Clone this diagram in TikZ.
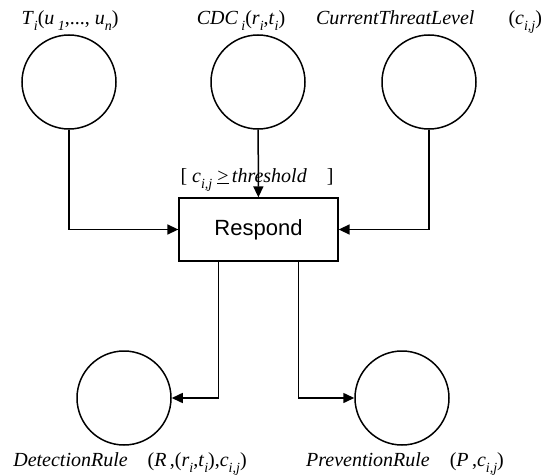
\documentclass[tikz,border=0pt]{standalone}
\usepackage{fontspec}
\setmainfont{Liberation Serif}
\newfontfamily\respfont{Liberation Sans}
\usetikzlibrary{arrows.meta}
\newcommand{\lowr}[1]{\raisebox{-0.3em}{\fontsize{14}{14}\selectfont\itshape #1}}
\tikzset{
	place/.style={draw,circle,line width=1.5pt,minimum size=94pt,inner sep=0pt},
	trans/.style={draw,rectangle,line width=1.3pt,minimum width=159pt,minimum height=63pt,font=\respfont\fontsize{22}{25}\selectfont},
	lbl/.style={draw=none,fill=none,anchor=base,inner sep=0pt,font=\fontsize{20}{24}\selectfont},
	arr/.style={line width=1.5pt,-{Triangle[length=11pt,width=10pt]}}
}
\begin{document}
\begin{tikzpicture}[x=1pt,y=-1pt]
		\useasboundingbox (0,0) rectangle (543,476);
		
		\node[place] (tin) at (69,82) {};
		\node[place] (cdc) at (258,82) {};
		\node[place] (ctl) at (429,82) {};
		\node[lbl] (tinlbl) at (70,25) {\textit{T}\lowr{i}(\textit{u}\,\lowr{1},..., \textit{u}\lowr{n})};
		\node[lbl] (cdclbl) at (241,25) {\textit{CDC}\,\lowr{i}(\textit{r}\lowr{i},\textit{t}\lowr{i})};
		\node[lbl] (ctllbl) at (429,25) {\textit{CurrentThreatLevel}\hspace{1.7em}(\textit{c}\lowr{i,j})};
		
		\node[trans] (resp) at (258.5,229.5) {Respond};
		\node[lbl] (guard) at (257,182) {[\ \textit{c}\lowr{i,j} \underline{>}\,\textit{threshold}\quad]};
		
		\node[place] (det) at (124,398) {};
		\node[place] (prev) at (402,398) {};
		\node[lbl] (detlbl) at (130,466) {\textit{DetectionRule}\quad(\textit{R}\,,(\textit{r}\lowr{i},\textit{t}\lowr{i}),\textit{c}\lowr{i,j})};
		\node[lbl] (prevlbl) at (405,466) {\textit{PreventionRule}\quad(\textit{P}\,,\textit{c}\lowr{i,j})};
		
		\draw[arr] (tin) |- (resp);
		\draw[arr] (cdc) -- (resp);
		\draw[arr] (ctl) |- (resp);
		\draw[arr] ([xshift=-40pt]resp.south) |- (det);
		\draw[arr] ([xshift=40pt]resp.south) |- (prev);
	\end{tikzpicture}
\end{document}
